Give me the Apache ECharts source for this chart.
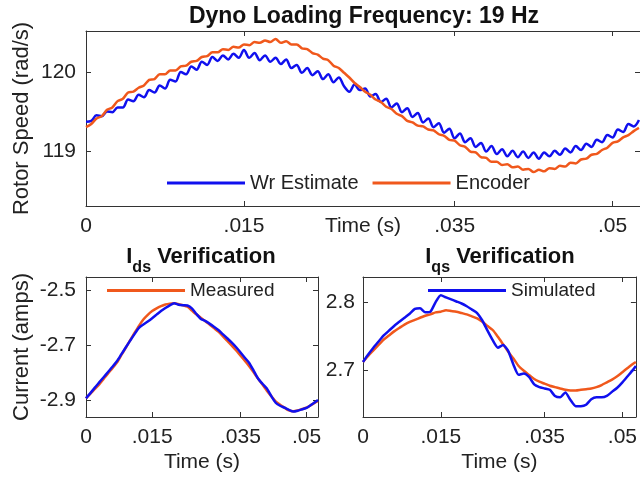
<!DOCTYPE html>
<html>
<head>
<meta charset="utf-8">
<script src="https://cdn.jsdelivr.net/npm/echarts@6/dist/echarts.min.js"></script>
<style>
html,body{margin:0;padding:0;background:#fff;}
#chart{width:640px;height:478px;}
</style>
</head>
<body>
<div id="chart"></div>
<script>
// ---------- DATA ----------
// Top panel: rotor speed (rad/s), sampled every 0.5 ms
const timeTop = [
0,0.0005,0.001,0.0015,0.002,0.0025,0.003,0.0035,0.004,0.0045,
0.005,0.0055,0.006,0.0065,0.007,0.0075,0.008,0.0085,0.009,0.0095,
0.010,0.0105,0.011,0.0115,0.012,0.0125,0.013,0.0135,0.014,0.0145,
0.015,0.0155,0.016,0.0165,0.017,0.0175,0.018,0.0185,0.019,0.0195,
0.020,0.0205,0.021,0.0215,0.022,0.0225,0.023,0.0235,0.024,0.0245,
0.025,0.0255,0.026,0.0265,0.027,0.0275,0.028,0.0285,0.029,0.0295,
0.030,0.0305,0.031,0.0315,0.032,0.0325,0.033,0.0335,0.034,0.0345,
0.035,0.0355,0.036,0.0365,0.037,0.0375,0.038,0.0385,0.039,0.0395,
0.040,0.0405,0.041,0.0415,0.042,0.0425,0.043,0.0435,0.044,0.0445,
0.045,0.0455,0.046,0.0465,0.047,0.0475,0.048,0.0485,0.049,0.0495,
0.050,0.0505,0.051,0.0515,0.052,0.0525
];
const wrEstimate = [
119.37,119.38,119.45,119.44,119.50,119.49,119.55,119.55,119.65,119.63,
119.71,119.68,119.77,119.74,119.83,119.79,119.90,119.88,120.00,119.97,
120.07,120.03,120.13,120.09,120.19,120.14,120.21,120.16,120.23,120.18,
120.28,120.18,120.24,120.15,120.21,120.13,120.18,120.10,120.16,120.05,
120.09,119.99,120.05,119.96,120.01,119.91,119.97,119.87,119.93,119.82,
119.75,119.84,119.77,119.79,119.69,119.72,119.62,119.66,119.55,119.60,
119.49,119.54,119.43,119.48,119.36,119.41,119.30,119.35,119.23,119.28,
119.16,119.22,119.11,119.16,119.05,119.10,118.99,119.06,118.96,119.02,
118.93,119.00,118.92,118.99,118.91,118.98,118.90,118.98,118.93,119.00,
118.95,119.03,118.98,119.06,119.01,119.09,119.05,119.14,119.11,119.20,
119.17,119.27,119.24,119.34,119.31,119.39
];
const encoder = [
119.30,119.34,119.41,119.44,119.52,119.55,119.63,119.66,119.74,119.75,
119.80,119.83,119.90,119.91,119.97,119.97,120.02,120.02,120.07,120.08,
120.13,120.14,120.19,120.20,120.25,120.25,120.29,120.28,120.32,120.31,
120.35,120.34,120.38,120.37,120.40,120.38,120.42,120.37,120.39,120.35,
120.35,120.30,120.29,120.24,120.22,120.17,120.15,120.08,120.05,119.99,
119.93,119.86,119.81,119.75,119.71,119.65,119.62,119.56,119.53,119.47,
119.44,119.38,119.36,119.32,119.31,119.27,119.26,119.21,119.19,119.14,
119.13,119.07,119.05,118.99,118.98,118.92,118.91,118.86,118.86,118.82,
118.83,118.79,118.80,118.76,118.77,118.73,118.76,118.74,118.78,118.77,
118.81,118.80,118.85,118.84,118.89,118.90,118.95,118.96,119.01,119.04,
119.10,119.12,119.17,119.20,119.25,119.29
];

// Bottom panels: currents (amps), sampled every 1 ms
const timeBottom = [
0,0.001,0.002,0.003,0.004,0.005,0.006,0.007,0.008,0.009,
0.010,0.011,0.012,0.013,0.014,0.015,0.016,0.017,0.018,0.019,
0.020,0.021,0.022,0.023,0.024,0.025,0.026,0.027,0.028,0.029,
0.030,0.031,0.032,0.033,0.034,0.035,0.036,0.037,0.038,0.039,
0.040,0.041,0.042,0.043,0.044,0.045,0.046,0.047,0.048,0.049,
0.050,0.051,0.052,0.0526
];
const idsMeasured = [
-2.894,-2.877,-2.860,-2.843,-2.823,-2.803,-2.784,-2.764,-2.737,-2.710,
-2.683,-2.656,-2.630,-2.607,-2.590,-2.576,-2.566,-2.558,-2.552,-2.549,
-2.548,-2.551,-2.555,-2.560,-2.574,-2.588,-2.600,-2.612,-2.625,-2.638,
-2.651,-2.667,-2.684,-2.701,-2.719,-2.738,-2.757,-2.777,-2.799,-2.822,
-2.844,-2.866,-2.886,-2.905,-2.917,-2.928,-2.938,-2.941,-2.938,-2.933,
-2.928,-2.919,-2.909,-2.904
];
const idsSimulated = [
-2.894,-2.875,-2.855,-2.836,-2.817,-2.798,-2.779,-2.759,-2.734,-2.709,
-2.684,-2.660,-2.637,-2.625,-2.614,-2.602,-2.589,-2.576,-2.565,-2.555,
-2.548,-2.553,-2.555,-2.556,-2.566,-2.586,-2.604,-2.612,-2.622,-2.633,
-2.645,-2.660,-2.675,-2.690,-2.707,-2.726,-2.746,-2.765,-2.793,-2.822,
-2.841,-2.858,-2.886,-2.910,-2.921,-2.928,-2.936,-2.942,-2.939,-2.934,
-2.929,-2.918,-2.907,-2.900
];
const iqsMeasured = [
2.712,2.721,2.729,2.737,2.745,2.751,2.757,2.762,2.767,2.771,
2.774,2.777,2.780,2.782,2.785,2.786,2.788,2.787,2.786,2.784,
2.782,2.779,2.776,2.771,2.765,2.759,2.749,2.738,2.727,2.717,
2.706,2.699,2.693,2.687,2.683,2.680,2.677,2.675,2.673,2.671,
2.670,2.670,2.671,2.672,2.673,2.675,2.678,2.682,2.686,2.691,
2.697,2.703,2.709,2.712
];
const iqsSimulated = [
2.712,2.723,2.733,2.742,2.751,2.758,2.765,2.771,2.777,2.783,
2.790,2.791,2.785,2.786,2.800,2.810,2.807,2.804,2.801,2.798,
2.794,2.789,2.784,2.773,2.758,2.744,2.733,2.737,2.728,2.708,
2.693,2.695,2.690,2.679,2.675,2.673,2.671,2.662,2.660,2.667,
2.656,2.647,2.647,2.649,2.657,2.660,2.660,2.662,2.668,2.674,
2.682,2.691,2.700,2.706
];

// Tick values
const xTicks = [0, 0.015, 0.035, 0.05];
const yTicksTop = [119, 120];
const yTicksIds = [-2.9, -2.7, -2.5];
const yTicksIqs = [2.7, 2.8];

// ---------- STYLE / BUILD ----------
const FONT = "'Liberation Sans', Arial, Helvetica, sans-serif";
const BLUE = '#1010ee';
const ORANGE = '#f0581c';
const AX = '#333333';
const TXT = '#222222';

function zip(t, v){ return t.map((x,i)=>[x, v[i]]); }
function xfmt(v){ return v === 0 ? '0' : String(+v.toFixed(3)).replace(/^0\./, '.'); }

function xAxisMain(g, nameGap){
  return {
    gridIndex:g, type:'value', min:0, max:0.0526, position:'bottom',
    axisLine:{show:true, onZero:false, lineStyle:{color:AX, width:1}},
    axisTick:{show:true, inside:true, length:5, customValues:xTicks, lineStyle:{color:AX}},
    axisLabel:{customValues:xTicks, formatter:xfmt, fontSize:21, color:TXT, fontFamily:FONT, margin:10},
    splitLine:{show:false},
    name:'Time (s)', nameLocation:'middle', nameGap:nameGap, nameMoveOverlap:false,
    nameTextStyle:{fontSize:21, color:TXT, fontFamily:FONT}
  };
}
function xAxisMirror(g){
  return {
    gridIndex:g, type:'value', min:0, max:0.0526, position:'top',
    axisLine:{show:true, onZero:false, lineStyle:{color:AX, width:1}},
    axisTick:{show:true, inside:true, length:5, customValues:xTicks, lineStyle:{color:AX}},
    axisLabel:{show:false}, splitLine:{show:false}
  };
}
function yAxisMain(g, min, max, ticks, name, margin){
  return {
    gridIndex:g, type:'value', min:min, max:max, position:'left',
    axisLine:{show:true, onZero:false, lineStyle:{color:AX, width:1}},
    axisTick:{show:true, inside:true, length:5, customValues:ticks, lineStyle:{color:AX}},
    axisLabel:{customValues:ticks, fontSize:21, color:TXT, fontFamily:FONT, margin:margin,
      formatter:v=>String(+v.toFixed(2))},
    splitLine:{show:false},
    name:name, nameLocation:'middle', nameGap:53, nameMoveOverlap:false,
    nameTextStyle:{fontSize:22, color:TXT, fontFamily:FONT}
  };
}
function yAxisMirror(g, min, max, ticks){
  return {
    gridIndex:g, type:'value', min:min, max:max, position:'right',
    axisLine:{show:true, onZero:false, lineStyle:{color:AX, width:1}},
    axisTick:{show:true, inside:true, length:5, customValues:ticks, lineStyle:{color:AX}},
    axisLabel:{show:false}, splitLine:{show:false}
  };
}
function lineSeries(name, xi, yi, data, color, smooth){
  return {
    type:'line', name:name, xAxisIndex:xi, yAxisIndex:yi, data:data,
    showSymbol:false, symbol:'none', color:color, smooth:smooth,
    lineStyle:{color:color, width:2.5}, clip:true
  };
}
const legendCommon = {
  icon:'rect', itemWidth:78, itemHeight:3, itemGap:14, padding:0,
  orient:'horizontal', selectedMode:false
};
const titleRich = {
  m:{fontSize:22, fontWeight:'bold', fill:'#111', fontFamily:FONT},
  s:{fontSize:16, fontWeight:'bold', fill:'#111', fontFamily:FONT, padding:[22,0,0,0]}
};

const chart = echarts.init(document.getElementById('chart'), null, {renderer:'canvas'});
chart.setOption({
  animation:false,
  backgroundColor:'#ffffff',
  grid:[
    {left:86, top:31, width:556, height:175},
    {left:86, top:277, width:232, height:140},
    {left:363, top:277, width:274, height:140}
  ],
  xAxis:[
    xAxisMain(0, 10), xAxisMirror(0),
    xAxisMain(1, 35), xAxisMirror(1),
    xAxisMain(2, 35), xAxisMirror(2)
  ],
  yAxis:[
    yAxisMain(0, 118.3, 120.52, yTicksTop, 'Rotor Speed (rad/s)', 10), yAxisMirror(0, 118.3, 120.52, yTicksTop),
    yAxisMain(1, -2.962, -2.452, yTicksIds, 'Current (amps)', 10), yAxisMirror(1, -2.962, -2.452, yTicksIds),
    Object.assign(yAxisMain(2, 2.631, 2.837, yTicksIqs, '', 8), {name:''}), yAxisMirror(2, 2.631, 2.837, yTicksIqs)
  ],
  legend:[
    Object.assign({}, legendCommon, {data:['Wr Estimate','Encoder'], left:167, top:173,
      textStyle:{fontSize:20, color:TXT, fontFamily:FONT}}),
    Object.assign({}, legendCommon, {data:['Measured'], left:107, top:281,
      textStyle:{fontSize:19, color:TXT, fontFamily:FONT}}),
    Object.assign({}, legendCommon, {data:['Simulated'], left:428, top:281,
      textStyle:{fontSize:19, color:TXT, fontFamily:FONT}})
  ],
  graphic:[
    {type:'text', x:364, y:17, style:{text:'Dyno Loading Frequency: 19 Hz', align:'center', verticalAlign:'middle',
      font:"bold 23px 'Liberation Sans', Arial, sans-serif", fill:'#111'}},
    {type:'text', x:201, y:257, style:{text:'{m|I}{s|ds}{m| Verification}', align:'center', verticalAlign:'middle', rich:titleRich}},
    {type:'text', x:500, y:257, style:{text:'{m|I}{s|qs}{m| Verification}', align:'center', verticalAlign:'middle', rich:titleRich}}
  ],
  series:[
    lineSeries('Wr Estimate', 0, 0, zip(timeTop, wrEstimate), BLUE, 0.35),
    lineSeries('Encoder', 0, 0, zip(timeTop, encoder), ORANGE, 0.3),
    lineSeries('Measured', 2, 2, zip(timeBottom, idsMeasured), ORANGE, 0.2),
    lineSeries('Simulated', 2, 2, zip(timeBottom, idsSimulated), BLUE, 0.2),
    lineSeries('Measured', 4, 4, zip(timeBottom, iqsMeasured), ORANGE, 0.2),
    lineSeries('Simulated', 4, 4, zip(timeBottom, iqsSimulated), BLUE, 0.2)
  ]
});
</script>
</body>
</html>
